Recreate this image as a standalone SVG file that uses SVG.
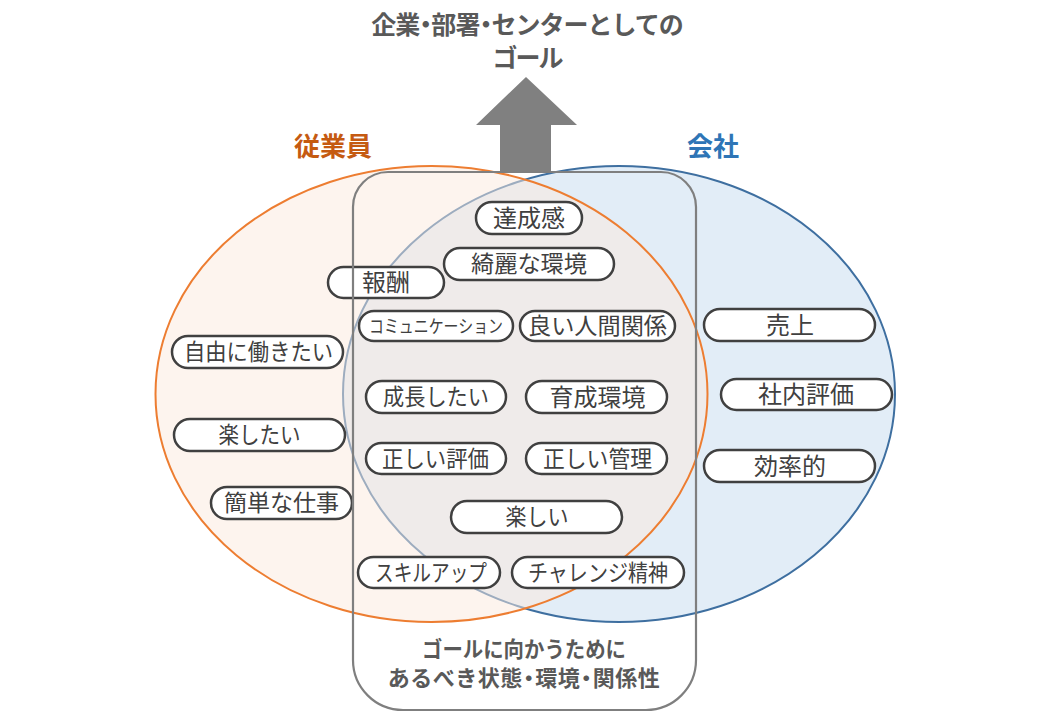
<svg xmlns="http://www.w3.org/2000/svg" width="1053" height="720" viewBox="0 0 1053 720">
<style>
.pill{fill:#FFFFFF;stroke:#404040;stroke-width:2.5}
.pt{font-family:"Noto Sans CJK JP","Noto Sans",sans-serif;font-size:23px;fill:#404040;text-anchor:middle}
.pk{font-size:24px}
.hd{font-family:"Noto Sans CJK JP","Noto Sans",sans-serif;font-weight:bold;text-anchor:middle}
</style>
<rect x="0" y="0" width="1053" height="720" fill="#FFFFFF"/>
<g id="venn">
<ellipse id="company-set" cx="619" cy="394" rx="276" ry="228" fill="#E2EDF7" stroke="#3E6FA0" stroke-width="2"/>
<ellipse id="employee-set" cx="431.5" cy="394" rx="276" ry="228" fill="#FBE9DD" fill-opacity="0.5" stroke="none"/>
<ellipse cx="431.5" cy="394" rx="276" ry="228" fill="none" stroke="#ED7D31" stroke-width="2"/>
</g>
<g id="goal-arrow">
<polygon points="526,77 577,125 551,125 551,172 500,172 500,125 476,125" fill="#808080"/>
</g>
<g id="title">
<text class="hd" x="527" y="34" font-size="25" fill="#595959" letter-spacing="-1" dx="0 0 -6 -6 0 -6 -6">企業・部署・センターとしての</text>
<text class="hd" x="527" y="67" font-size="25" fill="#595959" letter-spacing="-2">ゴール</text>
</g>
<g id="label-employee"><text class="hd" x="333" y="156" font-size="26" fill="#C55A11">従業員</text></g>
<g id="label-company"><text class="hd" x="713" y="156" font-size="26" fill="#2E75B6">会社</text></g>
<g id="n-tassei"><rect class="pill" x="476" y="202" width="106" height="32" rx="16"/><text class="pt pk" x="529" y="226.5">達成感</text></g>
<g id="n-kirei"><rect class="pill" x="444" y="248" width="170" height="32" rx="16"/><text class="pt" x="529" y="272" textLength="116" lengthAdjust="spacingAndGlyphs">綺麗な環境</text></g>
<g id="n-housyu"><rect class="pill" x="328" y="267" width="116" height="31" rx="15.5"/><text class="pt pk" x="386" y="291">報酬</text></g>
<g id="n-comm"><rect class="pill" x="359" y="311" width="154" height="30" rx="15"/><text class="pt" x="436" y="332.5" style="font-size:18px" textLength="134" lengthAdjust="spacingAndGlyphs">コミュニケーション</text></g>
<g id="n-ningen"><rect class="pill" x="520" y="311" width="155" height="30" rx="15"/><text class="pt" x="597.5" y="334" textLength="139" lengthAdjust="spacingAndGlyphs">良い人間関係</text></g>
<g id="n-jiyu"><rect class="pill" x="172" y="336" width="171" height="32" rx="16"/><text class="pt" x="258.5" y="360" textLength="149" lengthAdjust="spacingAndGlyphs">自由に働きたい</text></g>
<g id="n-seicho"><rect class="pill" x="366" y="381" width="140" height="32" rx="16"/><text class="pt" x="436" y="405" textLength="106" lengthAdjust="spacingAndGlyphs">成長したい</text></g>
<g id="n-ikusei"><rect class="pill" x="526" y="381" width="141" height="32" rx="16"/><text class="pt pk" x="597.5" y="405.5">育成環境</text></g>
<g id="n-rakushitai"><rect class="pill" x="174" y="419" width="171" height="32" rx="16"/><text class="pt" x="259.5" y="443" textLength="82" lengthAdjust="spacingAndGlyphs">楽したい</text></g>
<g id="n-hyoka"><rect class="pill" x="366" y="443" width="140" height="31" rx="15.5"/><text class="pt" x="435.5" y="467" textLength="107" lengthAdjust="spacingAndGlyphs">正しい評価</text></g>
<g id="n-kanri"><rect class="pill" x="526" y="443" width="141" height="31" rx="15.5"/><text class="pt" x="597.5" y="467" textLength="109" lengthAdjust="spacingAndGlyphs">正しい管理</text></g>
<g id="n-kantan"><rect class="pill" x="211" y="487" width="141" height="32" rx="16"/><text class="pt" x="281.5" y="511" textLength="115" lengthAdjust="spacingAndGlyphs">簡単な仕事</text></g>
<g id="n-tanoshii"><rect class="pill" x="451" y="501" width="171" height="32" rx="16"/><text class="pt" x="537" y="525" textLength="63" lengthAdjust="spacingAndGlyphs">楽しい</text></g>
<g id="n-skill"><rect class="pill" x="358" y="557" width="142" height="31" rx="15.5"/><text class="pt" x="431" y="581" textLength="112" lengthAdjust="spacingAndGlyphs">スキルアップ</text></g>
<g id="n-challenge"><rect class="pill" x="512" y="557" width="172" height="31" rx="15.5"/><text class="pt" x="598" y="581" textLength="140" lengthAdjust="spacingAndGlyphs">チャレンジ精神</text></g>
<g id="n-uriage"><rect class="pill" x="704" y="309" width="171" height="32" rx="16"/><text class="pt pk" x="790" y="333.5">売上</text></g>
<g id="n-shanai"><rect class="pill" x="721" y="379" width="171" height="31" rx="15.5"/><text class="pt pk" x="806" y="403">社内評価</text></g>
<g id="n-koritsu"><rect class="pill" x="704" y="450" width="171" height="32" rx="16"/><text class="pt pk" x="790" y="474.5">効率的</text></g>
<g id="frame">
<path d="M388,172 H661 A35,35 0 0 1 696,207 V660 A50,50 0 0 1 646,710 H403 A50,50 0 0 1 353,660 V207 A35,35 0 0 1 388,172 Z" fill="none" stroke="#7F7F7F" stroke-width="2.2"/>
</g>
<g id="frame-label">
<text class="hd" x="524" y="657" font-size="22" fill="#595959" textLength="204" lengthAdjust="spacingAndGlyphs">ゴールに向かうために</text>
<text class="hd" x="524" y="686" font-size="22" fill="#595959" letter-spacing="0.5" dx="0 0 0 0 0 0 -5 -5 0 -5 -5">あるべき状態・環境・関係性</text>
</g>
</svg>
